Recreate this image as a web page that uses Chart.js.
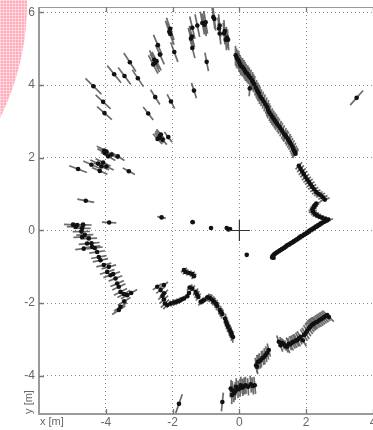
<!DOCTYPE html>
<html>
<head>
<meta charset="utf-8">
<script src="https://cdn.jsdelivr.net/npm/chart.js@4.4.0/dist/chart.umd.min.js"></script>
<style>
html, body { margin: 0; padding: 0; background: #fff; overflow: hidden; }
#wrap { position: relative; width: 373px; height: 430px; }
</style>
</head>
<body>
<div id="wrap"><canvas id="scan" width="373" height="430"></canvas></div>
<script>
// AXES
const xTicks = [-4, -2, 0, 2, 4];
const yTicks = [-4, -2, 0, 2, 4, 6];
const xRange = [-6, 4];
const yRange = [-5.05, 6.15];

// range noise: half length of each error bar as a fraction of distance
const rangeNoise = 0.055;

// SCAN POINTS [x, y] in metres, robot at origin
const farNorthWest = [
    [-4.37, 3.97], [-4.08, 3.54], [-4.04, 3.23], [-3.75, 4.30], [-3.44, 4.25], [-3.28, 4.63],
    [-3.04, 4.19], [-2.52, 3.67], [-2.73, 3.22], [-2.05, 3.55], [-1.36, 3.85], [-0.98, 4.64],
    [-2.38, 4.84], [-2.53, 4.61], [-2.58, 4.57], [-2.48, 4.66], [-2.55, 4.70], [-2.44, 5.10],
    [-1.95, 4.91], [-2.07, 5.55], [-2.07, 5.41], [-2.10, 5.47], [-1.41, 5.02], [-1.42, 5.34],
    [-1.45, 5.28], [-1.41, 5.58], [-1.26, 5.64], [-1.11, 5.71], [-1.01, 5.73], [-1.05, 5.66]
];

const northTop = [
    [-0.78, 5.87], [-0.75, 5.82], [-0.61, 5.56], [-0.59, 5.64], [-0.59, 5.42], [-0.46, 5.42],
    [-0.44, 5.49], [-0.41, 5.25], [-0.34, 5.25], [-0.37, 5.31]
];

const eastWall = [
    [-0.11, 4.82], [-0.08, 4.75], [-0.04, 4.70], [-0.01, 4.64], [0.02, 4.58], [0.04, 4.53],
    [0.09, 4.50], [0.13, 4.45], [0.16, 4.40], [0.19, 4.35], [0.24, 4.31], [0.28, 4.26],
    [0.33, 4.20], [0.38, 4.13], [0.41, 4.08], [0.44, 4.03], [0.31, 3.91], [0.49, 3.93],
    [0.53, 3.86], [0.56, 3.81], [0.59, 3.76], [0.63, 3.68], [0.68, 3.62], [0.73, 3.55],
    [0.78, 3.47], [0.83, 3.40], [0.86, 3.32], [0.89, 3.26], [0.94, 3.19], [0.98, 3.13],
    [1.02, 3.08], [1.06, 3.03], [1.10, 2.97], [1.14, 2.92], [1.19, 2.86], [1.23, 2.81],
    [1.28, 2.74], [1.33, 2.67], [1.37, 2.62], [1.40, 2.58], [1.45, 2.52], [1.48, 2.47],
    [1.52, 2.41], [1.56, 2.35], [1.60, 2.28], [1.63, 2.21], [1.66, 2.16], [1.68, 2.11]
];

const eastJog = [
    [1.78, 1.78], [1.83, 1.70], [1.88, 1.62], [1.93, 1.55], [1.98, 1.47], [2.03, 1.40],
    [2.08, 1.34], [2.13, 1.27], [2.18, 1.20], [2.24, 1.13], [2.30, 1.06], [2.36, 1.01],
    [2.43, 0.97], [2.50, 0.91], [2.56, 0.85], [2.30, 0.74], [2.26, 0.69], [2.23, 0.64],
    [2.19, 0.58], [2.20, 0.52], [2.26, 0.46], [2.32, 0.42], [2.40, 0.38], [2.48, 0.35],
    [2.57, 0.32], [2.66, 0.30]
];

const nearWall = [
    [2.60, 0.27], [2.54, 0.24], [2.48, 0.21], [2.43, 0.19], [2.38, 0.15], [2.33, 0.12],
    [2.28, 0.10], [2.23, 0.06], [2.18, 0.03], [2.13, 0.01], [2.08, -0.03], [2.03, -0.06],
    [1.98, -0.09], [1.93, -0.12], [1.88, -0.15], [1.83, -0.17], [1.78, -0.21], [1.73, -0.24],
    [1.68, -0.27], [1.63, -0.30], [1.58, -0.33], [1.53, -0.36], [1.48, -0.39], [1.43, -0.41],
    [1.38, -0.45], [1.33, -0.48], [1.28, -0.51], [1.23, -0.54], [1.18, -0.57], [1.13, -0.60],
    [1.08, -0.63], [1.04, -0.66], [1.00, -0.70], [0.98, -0.74], [1.02, -0.75]
];

const westUpper = [
    [-4.03, 2.13], [-3.98, 2.17], [-3.93, 2.04], [-3.83, 2.09], [-3.64, 2.04], [-4.08, 1.87],
    [-4.43, 1.81], [-4.23, 1.84], [-4.13, 1.76], [-3.98, 1.76], [-4.18, 1.64], [-4.83, 1.69],
    [-3.31, 1.63], [-4.05, 2.20],
    [-2.40, 2.55], [-2.13, 2.57], [-2.35, 2.64], [-2.45, 2.52], [-2.30, 2.50], [-2.38, 2.60]
];

const westWall = [
    [-4.98, 0.16], [-4.86, 0.15], [-4.68, 0.16], [-4.90, 0.10], [-4.71, 0.06], [-4.73, -0.03],
    [-4.63, -0.12], [-4.71, -0.18], [-4.51, -0.22], [-4.43, -0.35], [-4.56, -0.36], [-4.41, -0.45],
    [-4.66, -0.50], [-4.33, -0.48], [-4.26, -0.59], [-4.21, -0.73], [-4.16, -0.82], [-4.06, -0.95],
    [-3.91, -1.00], [-3.96, -1.14], [-3.86, -1.23], [-3.78, -1.20], [-3.71, -1.32], [-3.66, -1.46],
    [-3.61, -1.55], [-3.56, -1.69], [-3.46, -1.75], [-3.36, -1.78], [-3.24, -1.72], [-3.45, -1.95],
    [-3.56, -2.10], [-3.61, -2.19]
];

const southWest = [
    [-1.66, -1.09], [-1.61, -1.14], [-1.51, -1.17], [-1.41, -1.20], [-1.36, -1.26],
    [-2.46, -1.55], [-2.26, -1.50], [-2.36, -1.64], [-2.26, -1.73], [-2.30, -1.80], [-2.26, -1.90],
    [-2.23, -2.01], [-2.16, -2.05], [-2.06, -2.01], [-1.96, -1.98], [-1.88, -1.96], [-1.81, -1.94],
    [-1.73, -1.90], [-1.66, -1.87], [-1.56, -1.81], [-1.51, -1.72], [-1.49, -1.57], [-1.41, -1.60],
    [-1.31, -1.69], [-1.27, -1.76], [-1.23, -1.83], [-1.16, -1.96], [-1.11, -1.94], [-1.06, -1.92],
    [-0.96, -1.84], [-0.91, -1.85], [-0.86, -1.87], [-0.80, -1.92], [-0.76, -1.96], [-0.70, -2.02],
    [-0.66, -2.08], [-0.59, -2.19], [-0.55, -2.25], [-0.51, -2.30], [-0.43, -2.42], [-0.40, -2.51],
    [-0.37, -2.58], [-0.34, -2.65], [-0.29, -2.74], [-0.26, -2.80], [-0.23, -2.88], [-0.19, -2.93]
];

const southWall = [
    [-0.26, -4.35], [-0.22, -4.39], [-0.16, -4.48], [-0.22, -4.53], [-0.10, -4.30], [-0.04, -4.37],
    [0.04, -4.26], [0.10, -4.32], [0.15, -4.28], [0.19, -4.26], [0.26, -4.30], [0.34, -4.23],
    [0.40, -4.28], [0.46, -4.26], [-0.12, -4.42], [0.02, -4.34]
];

const southEastA = [
    [0.50, -3.71], [0.52, -3.75], [0.55, -3.62], [0.60, -3.60], [0.63, -3.57], [0.69, -3.51],
    [0.73, -3.49], [0.78, -3.43], [0.83, -3.37], [0.88, -3.29]
];

const southEastB = [
    [1.18, -3.06], [1.23, -3.16], [1.28, -3.10], [1.33, -3.13], [1.38, -3.18], [1.43, -3.20],
    [1.48, -3.12], [1.53, -3.13], [1.58, -3.08], [1.63, -3.06], [1.68, -3.03], [1.73, -3.02],
    [1.78, -2.97], [1.83, -2.93], [1.90, -3.02], [1.93, -2.88], [1.98, -2.83], [2.03, -2.76],
    [2.08, -2.70], [2.12, -2.65], [2.16, -2.61], [2.20, -2.58], [2.23, -2.56], [2.28, -2.53],
    [2.33, -2.51], [2.38, -2.48], [2.43, -2.45], [2.48, -2.42], [2.53, -2.39], [2.58, -2.36],
    [2.63, -2.33], [2.68, -2.38]
];

const singles = [
    [-0.28, 0.04], [-0.38, 0.07], [-0.33, 0.03], [-0.85, 0.07], [-1.40, 0.23], [-2.33, 0.36],
    [0.22, -0.67], [-3.90, 0.22], [-4.60, 0.82], [3.51, 3.65], [-0.51, -4.72], [-1.81, -4.77]
];

const robot = [[0, 0]];

// BUILD DATASETS
const scan = [].concat(farNorthWest, northTop, eastWall, eastJog, nearWall, westUpper,
    westWall, southWest, southWall, southEastA, southEastB, singles);

const points = scan.map(p => ({ x: p[0], y: p[1] }));

// error bars along the beam (radial from the robot)
const errorBars = [];
scan.forEach(p => {
    const r = Math.hypot(p[0], p[1]);
    const h = rangeNoise * r;
    const ux = p[0] / r, uy = p[1] / r;
    errorBars.push({ x: p[0] - ux * h, y: p[1] - uy * h });
    errorBars.push({ x: p[0] + ux * h, y: p[1] + uy * h });
    errorBars.push({ x: p[0], y: null });
});

// pink slide shape, box and inward ticks, axis names
const frame = {
    id: "frame",
    beforeDraw(chart) {
        const ctx = chart.ctx;
        ctx.save();
        ctx.beginPath();
        ctx.arc(-231, 3, 258, 0, Math.PI * 2);
        ctx.fillStyle = "#ffadbb";
        ctx.fill();
        ctx.clip();
        // faint grid texture of the slide background
        ctx.strokeStyle = "rgba(255,255,255,0.4)";
        ctx.lineWidth = 1;
        ctx.beginPath();
        for (let i = 0.5; i < 40; i += 3) {
            ctx.moveTo(i, 0); ctx.lineTo(i, 140);
        }
        for (let j = 0.5; j < 140; j += 3) {
            ctx.moveTo(0, j); ctx.lineTo(40, j);
        }
        ctx.stroke();
        ctx.restore();
    },
    afterDraw(chart) {
        const ctx = chart.ctx;
        const a = chart.chartArea;
        const sx = chart.scales.x, sy = chart.scales.y;
        ctx.save();
        ctx.strokeStyle = "#9a9a9a";
        ctx.lineWidth = 1;
        ctx.beginPath();
        ctx.moveTo(a.left, a.top + 0.5);
        ctx.lineTo(a.right, a.top + 0.5);
        ctx.stroke();
        ctx.lineWidth = 2;
        ctx.beginPath();
        ctx.moveTo(a.left, a.top);
        ctx.lineTo(a.left, a.bottom);
        ctx.lineTo(a.right, a.bottom);
        ctx.stroke();

        ctx.strokeStyle = "#777";
        ctx.lineWidth = 1.3;
        ctx.beginPath();
        xTicks.forEach(v => {
            const px = Math.round(sx.getPixelForValue(v)) + 0.5;
            ctx.moveTo(px, a.bottom); ctx.lineTo(px, a.bottom - 5);
            ctx.moveTo(px, a.top); ctx.lineTo(px, a.top + 5);
        });
        yTicks.forEach(v => {
            const py = Math.round(sy.getPixelForValue(v)) + 0.5;
            ctx.moveTo(a.left, py); ctx.lineTo(a.left + 5, py);
        });
        ctx.stroke();

        ctx.fillStyle = "#666";
        ctx.font = "11px 'Liberation Sans', Arial, sans-serif";
        ctx.textBaseline = "middle";
        ctx.textAlign = "left";
        ctx.fillText("x [m]", a.left + 1, 421.5);
        ctx.translate(29, 402);
        ctx.rotate(-Math.PI / 2);
        ctx.textAlign = "center";
        ctx.fillText("y [m]", 0, 0);
        ctx.restore();
    }
};

const tickFont = { family: "'Liberation Sans', Arial, sans-serif", size: 12 };

new Chart(document.getElementById("scan"), {
    type: "scatter",
    data: {
        datasets: [
            {
                data: robot.map(p => ({ x: p[0], y: p[1] })),
                pointStyle: "cross",
                pointRadius: 10.5,
                borderColor: "#333",
                borderWidth: 1.2
            },
            {
                data: points,
                pointRadius: 2.3,
                backgroundColor: "#111",
                borderWidth: 0
            },
            {
                data: errorBars,
                showLine: true,
                spanGaps: false,
                pointRadius: 0,
                borderColor: "rgba(45,45,45,0.7)",
                borderWidth: 1.7
            }
        ]
    },
    options: {
        responsive: false,
        animation: false,
        devicePixelRatio: 1,
        layout: { autoPadding: false, padding: { top: 7, right: 0, left: 0, bottom: 0 } },
        plugins: { legend: { display: false }, tooltip: { enabled: false } },
        scales: {
            x: {
                type: "linear",
                min: xRange[0],
                max: xRange[1],
                afterBuildTicks: s => { s.ticks = [xRange[0]].concat(xTicks).map(v => ({ value: v })); },
                afterFit: s => { s.height = 16; s.paddingLeft = 0; s.paddingRight = 0; },
                grid: { color: "#8c8c8c", lineWidth: 1, drawTicks: false },
                border: { display: false, dash: [1, 3] },
                ticks: {
                    padding: 1, color: "#666", font: tickFont, autoSkip: false, maxRotation: 0,
                    callback: v => (xTicks.includes(v) ? String(v) : "")
                }
            },
            y: {
                type: "linear",
                min: yRange[0],
                max: yRange[1],
                afterBuildTicks: s => { s.ticks = yTicks.map(v => ({ value: v })); },
                afterFit: s => { s.width = 39; s.paddingTop = 0; s.paddingBottom = 0; },
                grid: { color: "#8c8c8c", lineWidth: 1, drawTicks: false },
                border: { display: false, dash: [1, 3] },
                ticks: {
                    padding: 4, color: "#666", font: tickFont, autoSkip: false,
                    callback: v => String(v)
                }
            }
        }
    },
    plugins: [frame]
});
</script>
</body>
</html>
